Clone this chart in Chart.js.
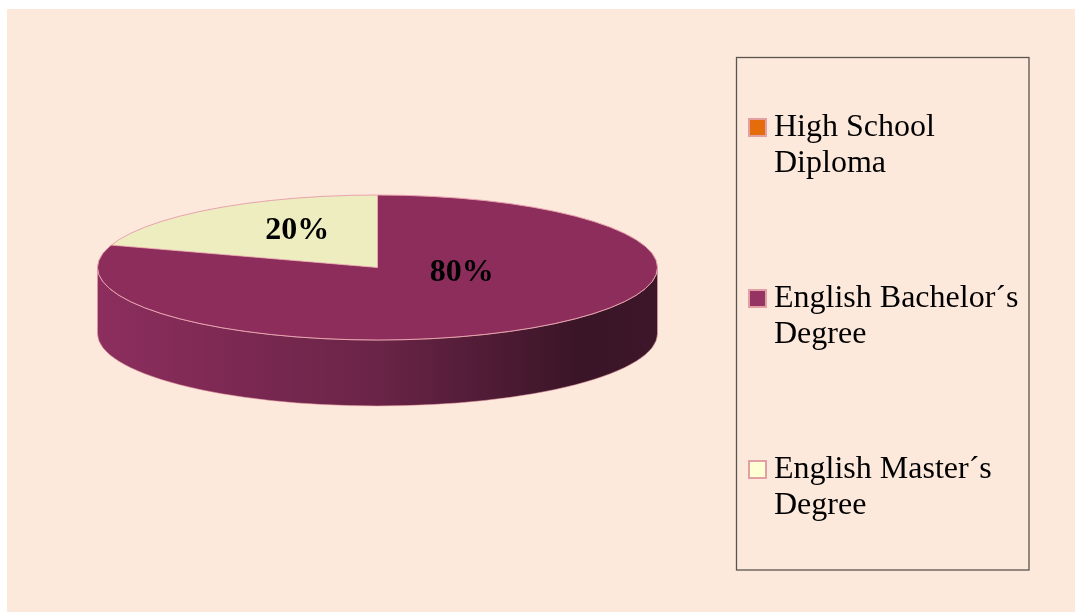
<!DOCTYPE html>
<html>
<head>
<meta charset="utf-8">
<script src="https://cdn.jsdelivr.net/npm/chart.js@4/dist/chart.umd.min.js"></script>
<style>
  html, body { margin: 0; padding: 0; background: #ffffff; }
  #wrap { width: 1075px; height: 612px; position: relative; }
</style>
</head>
<body>
<div id="wrap"><canvas id="c" width="1075" height="612"></canvas></div>
<script>
// ---- data ----
const categories = ["High School Diploma", "English Bachelor´s Degree", "English Master´s Degree"];
const legendLines = [["High School", "Diploma"], ["English Bachelor´s", "Degree"], ["English Master´s", "Degree"]];
const values = [0, 80, 20];

// ---- styles ----
const topColors = ["#E46C0A", "#8C2D5C", "#EDEDBF"];
const legendColors = ["#E46C0A", "#953463", "#FFFFD4"];
const sideStops = [
  ["#E46C0A", "#E46C0A", "#8A3F05", "#7A3704"],
  ["#8D2E5E", "#6A2447", "#3A1527", "#3D1729"],
  ["#D8D8A8", "#B5B58A", "#7A7A5C", "#7A7A5C"]
];

const GEO = { cx: 377.5, cy: 267.5, rx: 280, ry: 72.5, depth: 66 };
const LABEL_DY = [0, -24, -7];

function ellipseSide(ctx, a, b, colorIdx) {
  const { cx, cy, rx, ry, depth } = GEO;
  const g = ctx.createLinearGradient(cx - rx, 0, cx + rx, 0);
  const s = sideStops[colorIdx];
  g.addColorStop(0, s[0]); g.addColorStop(0.5, s[1]); g.addColorStop(0.86, s[2]); g.addColorStop(1, s[3]);
  ctx.beginPath();
  ctx.ellipse(cx, cy, rx, ry, 0, a, b, false);
  ctx.ellipse(cx, cy + depth, rx, ry, 0, b, a, true);
  ctx.closePath();
  ctx.fillStyle = g;
  ctx.fill();
  ctx.lineWidth = 1;
  ctx.strokeStyle = "rgba(232,160,170,0.55)";
  ctx.stroke();
}

const pie3d = {
  id: "pie3d",
  beforeDraw(chart) {
    const ctx = chart.ctx;
    ctx.save();
    ctx.fillStyle = "#ffffff";
    ctx.fillRect(0, 0, chart.width, chart.height);
    ctx.fillStyle = "#FDE9DB";
    ctx.fillRect(7, 9, chart.width - 7, chart.height - 9);
    ctx.restore();
  },
  beforeDatasetsDraw(chart) {
    const ctx = chart.ctx;
    const meta = chart.getDatasetMeta(0);
    meta.data.forEach((arc, i) => {
      const p = arc.getProps(["startAngle", "endAngle"], true);
      if (p.endAngle - p.startAngle <= 0) return;
      for (const off of [-2 * Math.PI, 0, 2 * Math.PI]) {
        const a = Math.max(p.startAngle, off);
        const b = Math.min(p.endAngle, off + Math.PI);
        if (b > a) ellipseSide(ctx, a - off, b - off, i);
      }
    });
    const a0 = meta.data[0].getProps(["x", "y", "outerRadius"], true);
    ctx.save();
    ctx.translate(GEO.cx, GEO.cy);
    ctx.scale(GEO.rx / a0.outerRadius, GEO.ry / a0.outerRadius);
    ctx.translate(-a0.x, -a0.y);
  },
  afterDatasetsDraw(chart) {
    const ctx = chart.ctx;
    ctx.restore();
    const { cx, cy, rx, ry } = GEO;
    ctx.save();
    ctx.beginPath();
    ctx.ellipse(cx, cy, rx, ry, 0, 0, 2 * Math.PI);
    ctx.lineWidth = 1;
    ctx.strokeStyle = "#E9A3AE";
    ctx.stroke();
    const meta = chart.getDatasetMeta(0);
    meta.data.forEach((arc) => {
      const p = arc.getProps(["startAngle", "endAngle"], true);
      if (p.endAngle - p.startAngle <= 0) return;
      ctx.beginPath();
      ctx.moveTo(cx, cy);
      ctx.lineTo(cx + rx * Math.cos(p.startAngle), cy + ry * Math.sin(p.startAngle));
      ctx.strokeStyle = "rgba(233,163,174,0.8)";
      ctx.stroke();
    });
    const total = values.reduce((s, v) => s + v, 0);
    ctx.font = "bold 32px 'Liberation Serif', 'Times New Roman', serif";
    ctx.fillStyle = "#000000";
    ctx.textAlign = "center";
    ctx.textBaseline = "middle";
    meta.data.forEach((arc, i) => {
      if (!values[i]) return;
      const p = arc.getProps(["startAngle", "endAngle"], true);
      const mid = (p.startAngle + p.endAngle) / 2;
      const x = cx + 0.5 * rx * Math.cos(mid) + 2;
      const y = cy + 0.5 * ry * Math.sin(mid) + LABEL_DY[i];
      ctx.fillText(Math.round(values[i] / total * 100) + "%", x, y);
    });
    ctx.restore();
  },
  afterDraw(chart) {
    const ctx = chart.ctx;
    ctx.save();
    ctx.strokeStyle = "#5a5550";
    ctx.lineWidth = 1.3;
    ctx.strokeRect(736.5, 57.5, 292.5, 512.5);
    ctx.font = "32px 'Liberation Serif', 'Times New Roman', serif";
    ctx.textAlign = "left";
    ctx.textBaseline = "alphabetic";
    const base = [136, 307, 478];
    categories.forEach((c, i) => {
      const by = base[i];
      ctx.fillStyle = legendColors[i];
      ctx.fillRect(749, by - 17, 17, 17);
      ctx.strokeStyle = "#E3A0A4";
      ctx.lineWidth = 2;
      ctx.strokeRect(749, by - 17, 17, 17);
      ctx.fillStyle = "#000000";
      legendLines[i].forEach((ln, k) => ctx.fillText(ln, 774, by + k * 36));
    });
    ctx.restore();
  }
};

new Chart(document.getElementById("c"), {
  type: "pie",
  data: {
    labels: categories,
    datasets: [{
      data: values,
      backgroundColor: topColors,
      borderWidth: 0
    }]
  },
  options: {
    responsive: false,
    animation: false,
    rotation: 0,
    layout: { padding: 0 },
    plugins: { legend: { display: false }, tooltip: { enabled: false } }
  },
  plugins: [pie3d]
});
</script>
</body>
</html>
